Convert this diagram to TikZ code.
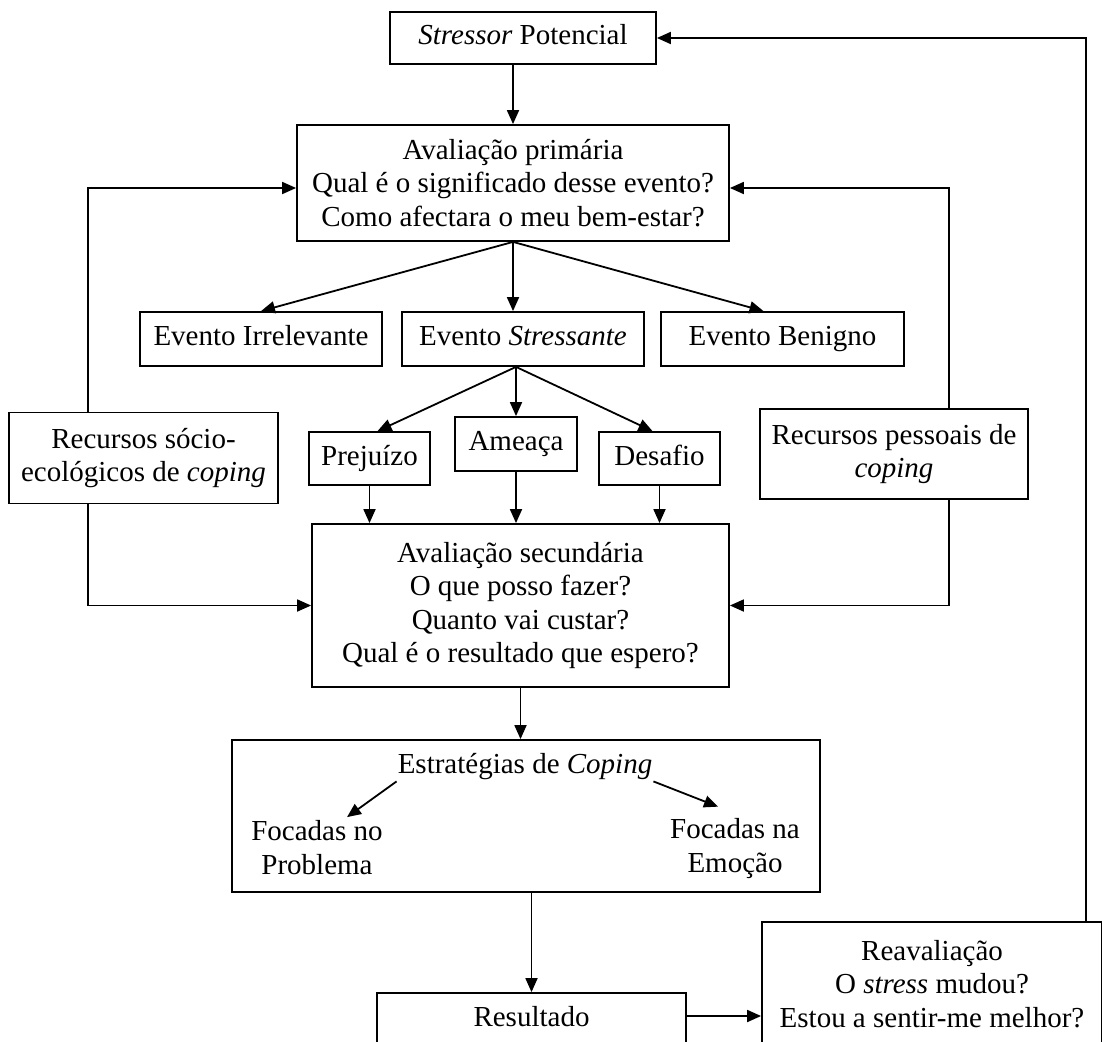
\documentclass[tikz,border=0pt]{standalone}
\usepackage{fontspec}
\setmainfont{Liberation Serif}
\usetikzlibrary{arrows.meta,calc}
\begin{document}
\begin{tikzpicture}[x=1pt,y=-1pt,
  box/.style={draw,line width=1.8pt,align=center,inner sep=0pt,font=\fontsize{29}{33.5}\selectfont},
  one/.style={text height=20pt,text depth=7pt},
  lbl/.style={align=center,inner sep=1pt,font=\fontsize{29}{34}\selectfont},
  arr/.style={line width=1.8pt,-{Triangle[length=14pt,width=12pt]}}]
  \useasboundingbox (0,0) rectangle (1102,1041);
  \node[box,one,minimum width=266pt,minimum height=52pt] (stressor) at (523,38) {\textit{Stressor} Potencial};
  \node[box,minimum width=432pt,minimum height=116pt] (prim) at (513,183) {Avaliação primária\\Qual é o significado desse evento?\\Como afectara o meu bem-estar?};
  \node[box,one,minimum width=242pt,minimum height=54pt] (irrel) at (261,339) {Evento Irrelevante};
  \node[box,one,minimum width=242pt,minimum height=54pt] (stress) at (523,339) {Evento \textit{Stressante}};
  \node[box,one,minimum width=243pt,minimum height=54pt] (benig) at (782.5,339) {Evento Benigno};
  \node[box,minimum width=269pt,minimum height=91pt] (socio) at (143.5,458) {Recursos sócio-\\ecológicos de \textit{coping}};
  \node[box,one,minimum width=121pt,minimum height=53pt] (prej) at (369.5,458.5) {Prejuízo};
  \node[box,one,minimum width=122pt,minimum height=54pt] (amea) at (516,444) {Ameaça};
  \node[box,one,minimum width=121pt,minimum height=53pt] (desa) at (659.5,458.5) {Desafio};
  \node[box,minimum width=268pt,minimum height=90pt] (pess) at (894,454) {Recursos pessoais de\\\textit{coping}};
  \node[box,minimum width=417pt,minimum height=163pt] (sec) at (520.5,605.5) {Avaliação secundária\\O que posso fazer?\\Quanto vai custar?\\Qual é o resultado que espero?};
  \node[box,minimum width=588pt,minimum height=152pt] (strat) at (526,816) {};
  \node[lbl] (stratlbl) at (525,767) {Estratégias de \textit{Coping}};
  \node[lbl] (probl) at (317,847.5) {Focadas no\\Problema};
  \node[lbl] (emoc) at (735,849) {Focadas na\\Emoção};
  \node[box,one,minimum width=309pt,minimum height=54pt] (res) at (531.5,1020) {Resultado};
  \node[box,minimum width=340pt,minimum height=124pt] (reav) at (932,984) {Reavaliação\\O \textit{stress} mudou?\\Estou a sentir-me melhor?};
  \coordinate (fan) at (stress.south -| amea.north);
  \draw[arr] (stressor.south -| prim.north) -- (prim.north);
  \draw[arr] (prim.south) -- (irrel.north);
  \draw[arr] (prim.south) -- (prim.south |- stress.north);
  \draw[arr] (prim.south) -- ([xshift=-19pt]benig.north);
  \draw[arr] (fan) -- ([xshift=8pt]prej.north);
  \draw[arr] (fan) -- (amea.north);
  \draw[arr] (fan) -- ([xshift=-7pt]desa.north);
  \draw[arr] (prej.south) -- (prej.south |- sec.north);
  \draw[arr] (amea.south) -- (amea.south |- sec.north);
  \draw[arr] (desa.south) -- (desa.south |- sec.north);
  \draw[arr] ([xshift=-55.5pt]socio.north) |- ([yshift=-5pt]prim.west);
  \draw[arr] ([xshift=-55.5pt]socio.south) |- (sec.west);
  \draw[arr] ([xshift=55pt]pess.north) |- ([yshift=-5pt]prim.east);
  \draw[arr] ([xshift=55pt]pess.south) |- (sec.east);
  \draw[arr] (sec.south) -- (sec.south |- strat.north);
  \draw[arr] (stratlbl.south west) -- ([xshift=30pt,yshift=2pt]probl.north);
  \draw[arr] (stratlbl.south east) -- ([xshift=-17pt,yshift=11pt]emoc.north);
  \draw[arr] (strat.south -| res.north) -- (res.north);
  \draw[arr] ([yshift=4pt]res.east) -- ([yshift=4pt]res.east -| reav.west);
  \draw[arr] ([xshift=154pt]reav.north) |- (stressor.east);
\end{tikzpicture}
\end{document}
